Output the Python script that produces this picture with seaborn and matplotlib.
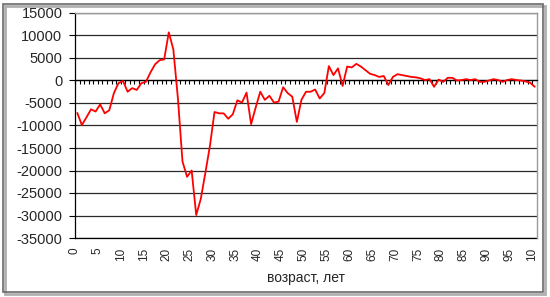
import numpy as np
import pandas as pd
import matplotlib
matplotlib.use('Agg')
import matplotlib.pyplot as plt
import seaborn as sns
from matplotlib.patches import Rectangle

ages = list(range(0, 101))
values = [
    -7200, -9900, -8200, -6400, -6900, -5300, -7300, -6600, -2800, -600,
    -100, -2500, -1700, -2100, -600, -300, 1800, 3600, 4500, 4700,
    10700, 6900, -4000, -18000, -21400, -20000, -29900, -26300, -20500, -14500,
    -7000, -7300, -7300, -8500, -7500, -4400, -4900, -2700, -9700, -6000,
    -2500, -4300, -3400, -4900, -4700, -1500, -2800, -3600, -9200, -4300,
    -2500, -2500, -2000, -4000, -2800, 3200, 1200, 2700, -1200, 3100,
    2900, 3700, 3100, 2300, 1500, 1200, 800, 1000, -1000, 800,
    1400, 1200, 1000, 800, 700, 500, 100, 300, -1400, 200,
    -300, 600, 600, 0, 100, 300, 100, 300, -300, -300,
    0, 300, 100, -300, 100, 300, 100, 0, -200, -500,
    -1400,
]
xtick_values = list(range(0, 101, 5))
xtick_labels = [str(v) for v in xtick_values[:-1]] + ['10']
ytick_values = list(range(-35000, 15001, 5000))
x_label = 'возраст, лет'

sns.set_style('white')
plt.rcParams['font.family'] = ['Liberation Sans', 'DejaVu Sans']

W, H = 550, 297
fig = plt.figure(figsize=(W / 100, H / 100), dpi=100)
ax = fig.add_axes([75 / W, 1 - 238 / H, (537 - 75) / W, (238 - 13) / H])

df = pd.DataFrame({'age': ages, 'value': values})
sns.lineplot(data=df, x='age', y='value', color='#ff0000', linewidth=1.3, ax=ax, zorder=5)

ax.set_xlim(-0.5, 100.5)
ax.set_ylim(-35000, 15000)
ax.set_yticks(ytick_values)
ax.set_yticklabels([str(v) for v in ytick_values], fontsize=10.5)
ax.yaxis.grid(True, color='#2a2a2a', linewidth=0.9)
ax.xaxis.grid(False)
ax.set_axisbelow(True)
ax.tick_params(axis='y', length=4, width=0.8, pad=5, color='black', left=True)
ax.spines['left'].set_color('black')
ax.spines['left'].set_linewidth(0.9)
for s in ('top', 'right'):
    ax.spines[s].set_color('#9a9a9a')
    ax.spines[s].set_linewidth(1.0)
ax.spines['bottom'].set_position(('data', 0))
ax.spines['bottom'].set_color('black')
ax.spines['bottom'].set_linewidth(0.9)
ax.set_xticks(np.arange(-0.5, 101, 1))
ax.tick_params(axis='x', direction='out', length=3, width=0.8, color='black',
               labelbottom=False, bottom=True)
ax.set_xlabel('')
ax.set_ylabel('')

sec = ax.secondary_xaxis('bottom')
sec.set_xticks([v - 0.5 for v in xtick_values])
sec.set_xticklabels(xtick_labels, rotation=90, fontsize=8.5)
sec.tick_params(length=0, pad=7)
sec.spines['bottom'].set_color('black')
sec.spines['bottom'].set_linewidth(0.9)
sec.set_xlabel(x_label, fontsize=10, labelpad=7)

# chart frame with shadow
fig.patches.append(Rectangle((5 / W, 3 / H), (540 / W), (288 / H), transform=fig.transFigure,
                             fill=False, edgecolor='#b0b0b0', linewidth=2.0, zorder=0))
fig.patches.append(Rectangle((3 / W, 5 / H), (540 / W), (288 / H), transform=fig.transFigure,
                             fill=False, edgecolor='#6a6a6a', linewidth=1.2, zorder=1))

fig.savefig('out.png', dpi=100)
